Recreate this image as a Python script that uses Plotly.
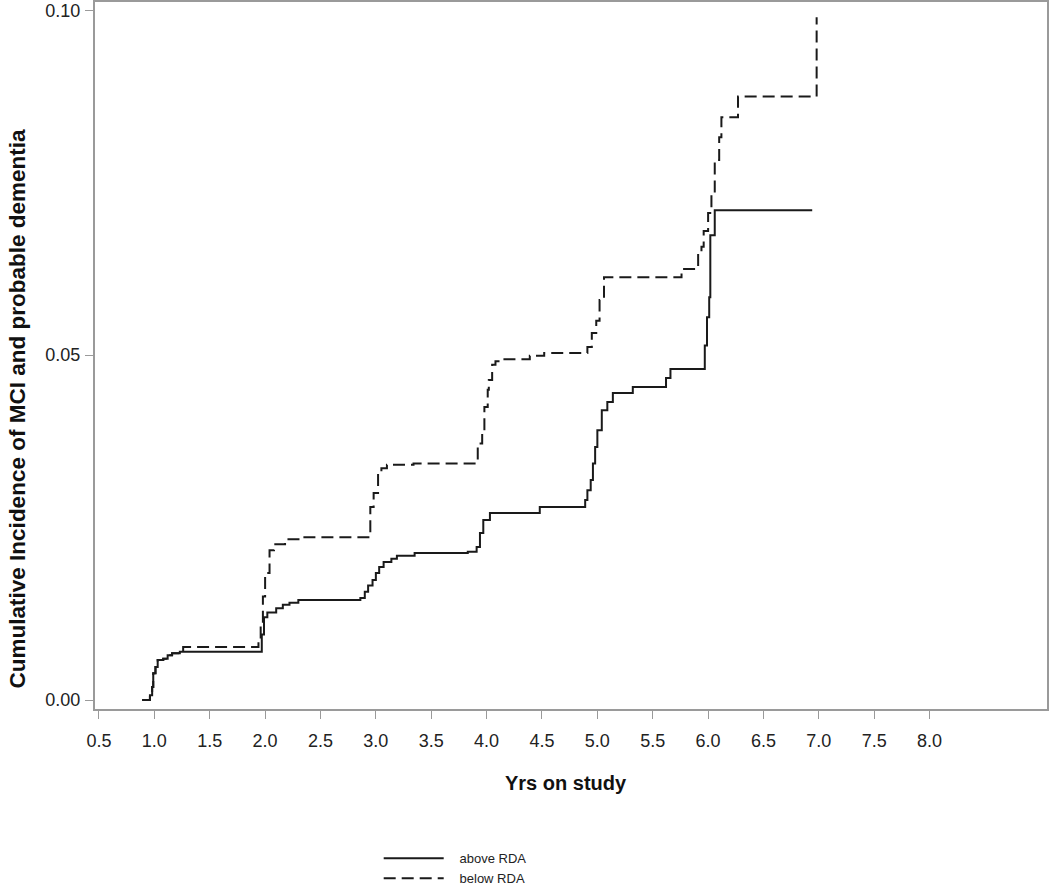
import plotly.graph_objects as go

# step-function estimates
above_x = [0.89, 0.96, 0.98, 0.99, 1.01, 1.03, 1.08, 1.12, 1.16, 1.23, 1.97, 1.99,
           2.02, 2.10, 2.16, 2.22, 2.30, 2.86, 2.90, 2.93, 2.97, 3.00, 3.03, 3.07,
           3.14, 3.19, 3.35, 3.83, 3.91, 3.94, 3.97, 4.03, 4.48, 4.89, 4.91, 4.94,
           4.96, 4.98, 5.00, 5.04, 5.09, 5.14, 5.32, 5.62, 5.66, 5.97, 5.99, 6.01,
           6.02, 6.06, 6.94]
above_y = [0.0, 0.0007, 0.0019, 0.0039, 0.0048, 0.0058, 0.0060, 0.0065, 0.0068, 0.0070,
           0.0095, 0.0120, 0.0127, 0.0133, 0.0138, 0.0141, 0.0145, 0.0148, 0.0157,
           0.0166, 0.0174, 0.0184, 0.0193, 0.0200, 0.0205, 0.0209, 0.0213, 0.0215,
           0.0222, 0.0242, 0.0261, 0.0271, 0.0280, 0.0290, 0.0304, 0.0319, 0.0343,
           0.0367, 0.0391, 0.0420, 0.0432, 0.0445, 0.0454, 0.0467, 0.0480, 0.0514,
           0.0555, 0.0584, 0.0674, 0.0710, 0.0710]

below_x = [0.89, 0.96, 0.98, 0.99, 1.01, 1.03, 1.08, 1.12, 1.16, 1.23, 1.26, 1.94,
           1.96, 1.98, 2.00, 2.04, 2.08, 2.18, 2.33, 2.95, 2.98, 3.02, 3.05, 3.10,
           3.34, 3.92, 3.96, 3.98, 4.01, 4.02, 4.05, 4.08, 4.13, 4.39, 4.52, 4.91,
           4.95, 4.99, 5.02, 5.06, 5.76, 5.91, 5.94, 5.96, 6.00, 6.03, 6.06, 6.10,
           6.12, 6.27, 6.98]
below_y = [0.0, 0.0007, 0.0019, 0.0039, 0.0048, 0.0058, 0.0060, 0.0065, 0.0068, 0.0070,
           0.0077, 0.0084, 0.0110, 0.0150, 0.0184, 0.0217, 0.0226, 0.0233, 0.0236,
           0.0280, 0.0300, 0.0329, 0.0336, 0.0341, 0.0343, 0.0372, 0.0390, 0.0425,
           0.0450, 0.0464, 0.0486, 0.0491, 0.0494, 0.0499, 0.0503, 0.0512, 0.0532,
           0.0550, 0.0580, 0.0613, 0.0625, 0.0648, 0.0657, 0.0680, 0.0706, 0.0735,
           0.0783, 0.0816, 0.0845, 0.0875, 0.0990]

x_ticks = [0.5, 1.0, 1.5, 2.0, 2.5, 3.0, 3.5, 4.0, 4.5, 5.0, 5.5, 6.0, 6.5, 7.0, 7.5, 8.0]
y_ticks = [0.0, 0.05, 0.10]

font = "Liberation Sans, Arial, sans-serif"
gap = "\u00a0\u00a0\u00a0"  # a little extra room between legend line and label

fig = go.Figure()
fig.add_trace(go.Scatter(x=above_x, y=above_y, mode="lines", line_shape="hv",
                         name=gap + "above RDA", line=dict(color="#1a1a1a", width=2)))
fig.add_trace(go.Scatter(x=below_x, y=below_y, mode="lines", line_shape="hv",
                         name=gap + "below RDA",
                         line=dict(color="#1a1a1a", width=2, dash="12px,6px")))

axis_style = dict(showline=True, mirror=True, linecolor="#9a9a9a", linewidth=2,
                  showgrid=False, zeroline=False, ticks="outside", ticklen=8,
                  tickcolor="#9a9a9a", tickwidth=1, automargin=False,
                  tickfont=dict(family=font, size=18, color="#222"))

fig.update_xaxes(range=[0.464, 9.06], tickvals=x_ticks, ticklabelstandoff=6,
                 ticktext=[f"{v:.1f}" for v in x_ticks], **axis_style)
fig.update_yaxes(range=[-0.0013, 0.1012], tickvals=y_ticks, ticklabelstandoff=1,
                 ticktext=[f"{v:.2f}" for v in y_ticks], **axis_style)

fig.add_annotation(text="<b>Yrs on study</b>", xref="paper", yref="paper",
                   x=0.495, y=-0.105, showarrow=False, yanchor="middle",
                   font=dict(family=font, size=20, color="#111"))
fig.add_annotation(text="<b>Cumulative Incidence of MCI and probable dementia</b>",
                   xref="paper", yref="paper", x=-0.081, y=0.425, textangle=-90,
                   showarrow=False, xanchor="center", yanchor="middle",
                   font=dict(family=font, size=22.5, color="#111"))

fig.update_layout(
    width=1050, height=888,
    margin=dict(l=95, r=3, t=2, b=179, autoexpand=False),
    paper_bgcolor="white", plot_bgcolor="white",
    showlegend=True,
    legend=dict(x=0.298, y=-0.19, xanchor="left", yanchor="top",
                font=dict(family=font, size=13, color="#222"),
                itemwidth=60, tracegroupgap=0, bgcolor="rgba(0,0,0,0)"),
)

# drop the page's default body margin so the figure sits at the window corner
fig.write_html("out.html", config={"displayModeBar": False},
               post_script="document.body.style.margin='0';")
